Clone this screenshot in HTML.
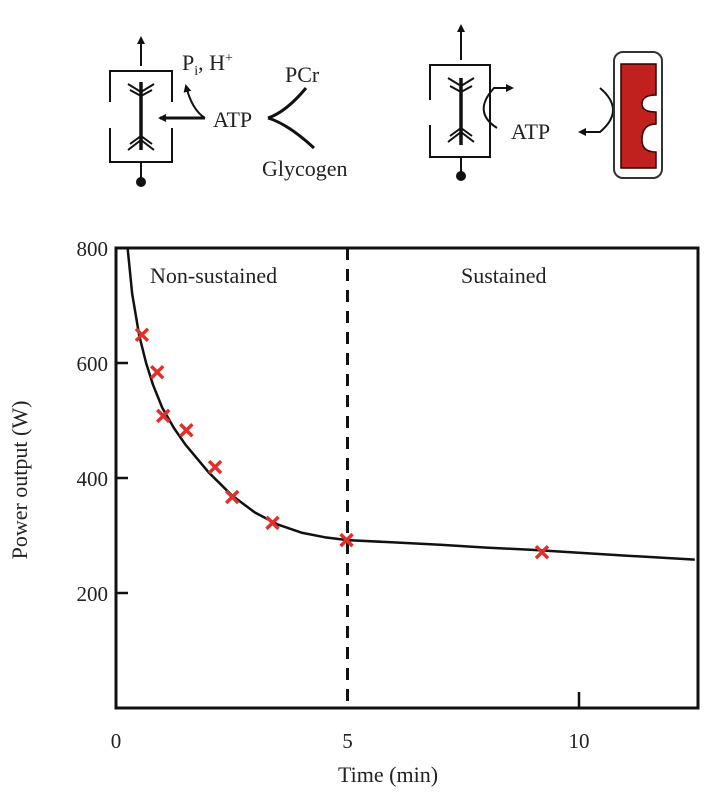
<!DOCTYPE html>
<html><head><meta charset="utf-8"><style>
body{margin:0;background:#fff;}
svg{display:block;font-family:"Liberation Serif",serif;}
</style></head><body>
<svg width="722" height="810" viewBox="0 0 722 810">
<defs>
<marker id="ah" markerWidth="8" markerHeight="8" refX="6" refY="4" orient="auto" markerUnits="userSpaceOnUse"><path d="M0,0 L8,4 L0,8 Z" fill="#111"/></marker>
</defs>
<g stroke="#111" fill="none" stroke-width="2">
<path d="M110,102 V71 H172 V102 M110,128 V162 H172 V128"/>
<line x1="141" y1="66" x2="141" y2="38" marker-end="url(#ah)"/>
<line x1="141" y1="162" x2="141" y2="180"/><circle cx="141" cy="182" r="4" fill="#111"/>
<path d="M141,82 V150" stroke-width="3.5"/>
<path d="M128,84 L141,92 L154,84 M130,90 L141,96 L152,90 M128,150 L141,140 L154,150 M130,144 L141,136 L152,144"/>
<line x1="205" y1="118" x2="160" y2="118" stroke-width="3" marker-end="url(#ah)"/>
<path d="M205,118 Q192,110 186,86" marker-end="url(#ah)"/>
<path d="M268,118 Q286,112 306,88" stroke-width="3"/>
<path d="M268,118 Q288,124 314,148" stroke-width="3"/>
</g>
<g font-size="22" fill="#222">
<text x="182" y="70">P<tspan font-size="14" dy="5">i</tspan><tspan dy="-5">, H</tspan><tspan font-size="14" dy="-8">+</tspan></text>
<text x="213" y="127">ATP</text>
<text x="285" y="82">PCr</text>
<text x="262" y="176">Glycogen</text>
<text x="511" y="139">ATP</text>
</g>
<g stroke="#111" fill="none" stroke-width="2">
<path d="M430,100 V65 H490 V157 H430 V125"/>
<line x1="461" y1="60" x2="461" y2="26" marker-end="url(#ah)"/>
<line x1="461" y1="157" x2="461" y2="174"/><circle cx="461" cy="176" r="4" fill="#111"/>
<path d="M461,78 V145" stroke-width="3.5"/>
<path d="M448,78 L461,86 L474,78 M450,86 L461,92 L472,86 M448,142 L461,132 L474,142 M450,136 L461,128 L472,136"/>
<path d="M497,128 Q472,112 494,88 L512,88" marker-end="url(#ah)"/>
<path d="M600,88 Q626,110 600,132 L580,132" marker-end="url(#ah)"/>
<rect x="614" y="52" width="48" height="126" rx="9" stroke="#333"/>
<path d="M621,64 H656 V95 Q642,95 642,104 Q642,112 656,112 V124 Q642,124 642,140 Q642,152 656,152 V168 H621 Z" fill="#c0201e" stroke="#300" stroke-width="1.5"/>
</g>
<g id="chart"></g>
<text x="150" y="283" font-size="22" fill="#222">Non-sustained</text>
<text x="461" y="283" font-size="22" fill="#222">Sustained</text>
<text x="388" y="782" font-size="22" fill="#222" text-anchor="middle">Time (min)</text>
<text transform="translate(27,480) rotate(-90)" font-size="22" fill="#222" text-anchor="middle">Power output (W)</text>
</svg>
<script>
const xTicks=[0,5,10];
const yTicks=[200,400,600,800];
const pointTimes=[0.56,0.89,1.02,1.52,2.14,2.51,3.38,4.98,9.2];
const pointPower=[649,584,508,483,419,367,322,292,271];
const curveTimes=[0.25,0.35,0.5,0.65,0.8,1,1.25,1.5,2,2.5,3,3.5,4,4.5,5,6,7,8,9,10,11,12.5];
const curvePower=[800,720,648,600,562,522,487,458,410,370,340,319,305,297,292,288,284,279,275,270,265,258];
const splitTime=5;
const X0=116,X1=698,Y0=708,Y1=248;
const xs=t=>X0+t*(463/10);
const ys=p=>Y0-(p/800)*(Y0-Y1);
const NS='http://www.w3.org/2000/svg';
const g=document.getElementById('chart');
function mk(tag,attrs){const e=document.createElementNS(NS,tag);for(const k in attrs)e.setAttribute(k,attrs[k]);g.appendChild(e);return e;}
let fr=mk('rect',{x:X0,y:Y1,width:X1-X0,height:Y0-Y1,fill:'none',stroke:'#111','stroke-width':3});


yTicks.forEach(v=>{
 if(v<800){const l=mk('line',{x1:X0,x2:X0+12,y1:ys(v),y2:ys(v),stroke:'#111','stroke-width':2.5});
 
 }
 const t=mk('text',{x:X0-8,y:ys(v)+8,'text-anchor':'end','font-size':21,fill:'#222'});t.textContent=v;
 
 
});
xTicks.forEach(v=>{
 if(v===10){const l=mk('line',{x1:xs(v),x2:xs(v),y1:Y0,y2:Y0-16,stroke:'#111','stroke-width':2.5});
 
 }
 const t=mk('text',{x:xs(v),y:Y0+40,'text-anchor':'middle','font-size':21,fill:'#222'});t.textContent=v;
 
 
});
const dl=mk('line',{x1:xs(splitTime),x2:xs(splitTime),y1:Y1,y2:Y0,stroke:'#111','stroke-width':3,'stroke-dasharray':'12,9'});


let d='';curveTimes.forEach((t,i)=>{d+=(i?'L':'M')+xs(t).toFixed(1)+','+ys(curvePower[i]).toFixed(1);});
const cp=mk('path',{d:d,fill:'none',stroke:'#111','stroke-width':2.5,'stroke-linejoin':'round'});


pointTimes.forEach((t,i)=>{
 const x=xs(t),y=ys(pointPower[i]),s=6;
 const p=mk('path',{d:`M${x-s},${y-s}L${x+s},${y+s}M${x+s},${y-s}L${x-s},${y+s}`,stroke:'#e0302a','stroke-width':3.5});
 
 
});
</script>
</body></html>
